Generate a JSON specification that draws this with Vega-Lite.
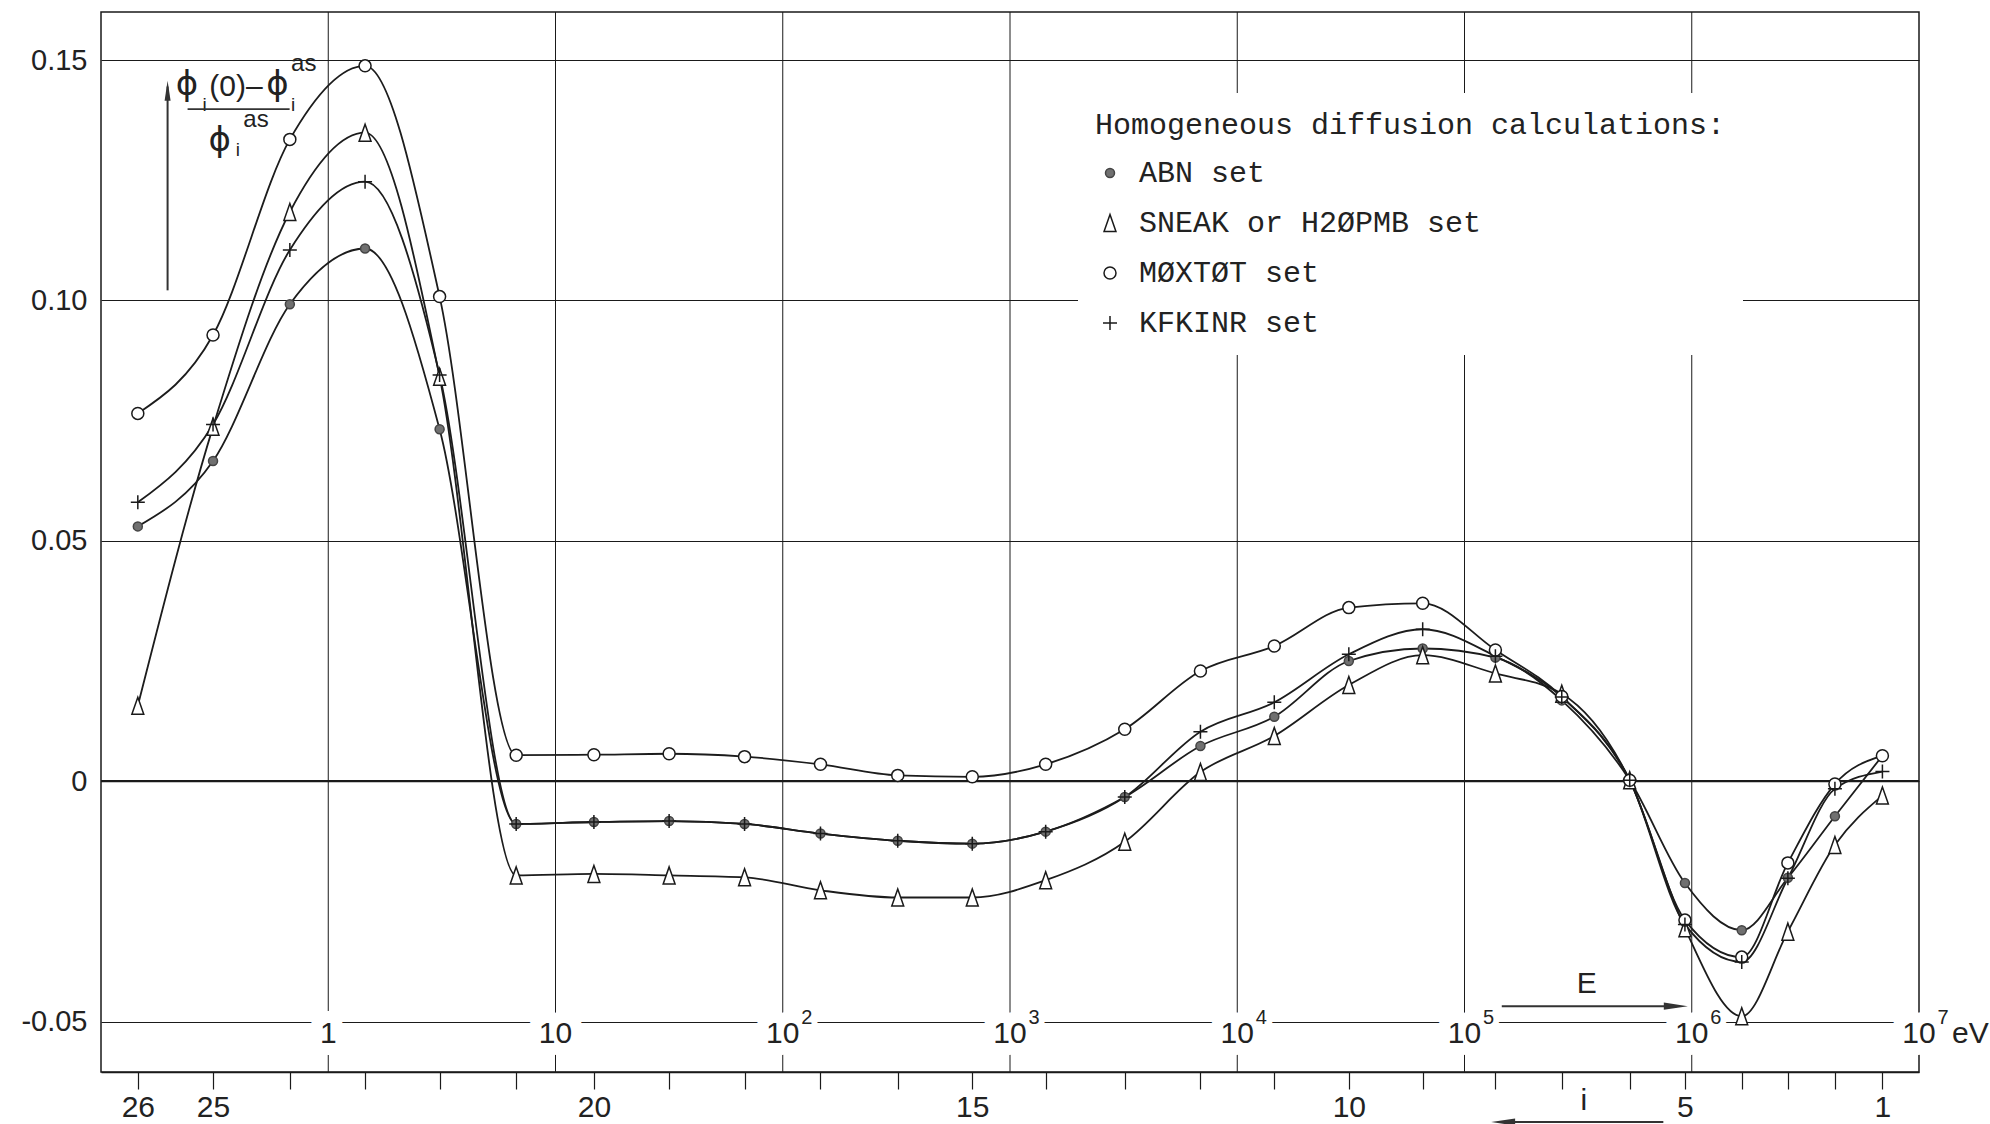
{
  "$schema": "https://vega.github.io/schema/vega-lite/v6.json",
  "width": 1818,
  "height": 1060,
  "autosize": {"type": "none"},
  "padding": {"left": 101, "top": 12, "right": 71, "bottom": 52},
  "background": "white",
  "config": {
    "view": {"stroke": "#1a1a1a", "strokeWidth": 1.5},
    "font": "Liberation Sans",
    "text": {"font": "Liberation Sans", "color": "#222"}
  },
  "datasets": {
    "one": [{}],
    "groups": [
      {"g": 26, "pos": -0.838, "ABN set": 0.0530, "SNEAK or H2ØPMB set": 0.0157, "MØXTØT set": 0.0765, "KFKINR set": 0.0580},
      {"g": 25, "pos": -0.507, "ABN set": 0.0666, "SNEAK or H2ØPMB set": 0.0737, "MØXTØT set": 0.0928, "KFKINR set": 0.0742},
      {"g": 24, "pos": -0.169, "ABN set": 0.0992, "SNEAK or H2ØPMB set": 0.1184, "MØXTØT set": 0.1335, "KFKINR set": 0.1105},
      {"g": 23, "pos": 0.162, "ABN set": 0.1108, "SNEAK or H2ØPMB set": 0.1349, "MØXTØT set": 0.1488, "KFKINR set": 0.1247},
      {"g": 22, "pos": 0.49, "ABN set": 0.0732, "SNEAK or H2ØPMB set": 0.0841, "MØXTØT set": 0.1008, "KFKINR set": 0.0845},
      {"g": 21, "pos": 0.827, "ABN set": -0.0089, "SNEAK or H2ØPMB set": -0.0196, "MØXTØT set": 0.0054, "KFKINR set": -0.0089},
      {"g": 20, "pos": 1.169, "ABN set": -0.0085, "SNEAK or H2ØPMB set": -0.0193, "MØXTØT set": 0.0055, "KFKINR set": -0.0085},
      {"g": 19, "pos": 1.5, "ABN set": -0.0083, "SNEAK or H2ØPMB set": -0.0196, "MØXTØT set": 0.0057, "KFKINR set": -0.0083},
      {"g": 18, "pos": 1.832, "ABN set": -0.0089, "SNEAK or H2ØPMB set": -0.0200, "MØXTØT set": 0.0051, "KFKINR set": -0.0089},
      {"g": 17, "pos": 2.166, "ABN set": -0.0109, "SNEAK or H2ØPMB set": -0.0227, "MØXTØT set": 0.0035, "KFKINR set": -0.0109},
      {"g": 16, "pos": 2.506, "ABN set": -0.0124, "SNEAK or H2ØPMB set": -0.0242, "MØXTØT set": 0.0012, "KFKINR set": -0.0124},
      {"g": 15, "pos": 2.834, "ABN set": -0.0130, "SNEAK or H2ØPMB set": -0.0242, "MØXTØT set": 0.0009, "KFKINR set": -0.0130},
      {"g": 14, "pos": 3.157, "ABN set": -0.0105, "SNEAK or H2ØPMB set": -0.0206, "MØXTØT set": 0.0035, "KFKINR set": -0.0105},
      {"g": 13, "pos": 3.505, "ABN set": -0.0033, "SNEAK or H2ØPMB set": -0.0126, "MØXTØT set": 0.0108, "KFKINR set": -0.0033},
      {"g": 12, "pos": 3.838, "ABN set": 0.0073, "SNEAK or H2ØPMB set": 0.0019, "MØXTØT set": 0.0229, "KFKINR set": 0.0103},
      {"g": 11, "pos": 4.163, "ABN set": 0.0134, "SNEAK or H2ØPMB set": 0.0094, "MØXTØT set": 0.0281, "KFKINR set": 0.0164},
      {"g": 10, "pos": 4.491, "ABN set": 0.0250, "SNEAK or H2ØPMB set": 0.0200, "MØXTØT set": 0.0361, "KFKINR set": 0.0264},
      {"g": 9, "pos": 4.816, "ABN set": 0.0276, "SNEAK or H2ØPMB set": 0.0262, "MØXTØT set": 0.0370, "KFKINR set": 0.0316},
      {"g": 8, "pos": 5.136, "ABN set": 0.0257, "SNEAK or H2ØPMB set": 0.0224, "MØXTØT set": 0.0273, "KFKINR set": 0.0260},
      {"g": 7, "pos": 5.428, "ABN set": 0.0168, "SNEAK or H2ØPMB set": 0.0182, "MØXTØT set": 0.0176, "KFKINR set": 0.0175},
      {"g": 6, "pos": 5.727, "ABN set": 0.0002, "SNEAK or H2ØPMB set": 0.0002, "MØXTØT set": 0.0002, "KFKINR set": 0.0002},
      {"g": 5, "pos": 5.97, "ABN set": -0.0212, "SNEAK or H2ØPMB set": -0.0306, "MØXTØT set": -0.0289, "KFKINR set": -0.0298},
      {"g": 4, "pos": 6.22, "ABN set": -0.0310, "SNEAK or H2ØPMB set": -0.0489, "MØXTØT set": -0.0366, "KFKINR set": -0.0376},
      {"g": 3, "pos": 6.423, "ABN set": -0.0201, "SNEAK or H2ØPMB set": -0.0313, "MØXTØT set": -0.0170, "KFKINR set": -0.0202},
      {"g": 2, "pos": 6.63, "ABN set": -0.0073, "SNEAK or H2ØPMB set": -0.0133, "MØXTØT set": -0.0006, "KFKINR set": -0.0016},
      {"g": 1, "pos": 6.839, "ABN set": 0.0053, "SNEAK or H2ØPMB set": -0.0030, "MØXTØT set": 0.0053, "KFKINR set": 0.0020}
    ],
    "dec": [
      {"E": 0, "base": "1", "exp": ""},
      {"E": 1, "base": "10", "exp": ""},
      {"E": 2, "base": "10", "exp": "2"},
      {"E": 3, "base": "10", "exp": "3"},
      {"E": 4, "base": "10", "exp": "4"},
      {"E": 5, "base": "10", "exp": "5"},
      {"E": 6, "base": "10", "exp": "6"},
      {"E": 7, "base": "10", "exp": "7"}
    ]
  },
  "layer": [
    {
      "data": {"name": "dec"},
      "transform": [{"filter": "datum.E < 7"}],
      "mark": {"type": "rule", "stroke": "#1a1a1a", "strokeWidth": 1},
      "encoding": {"x": {"field": "E", "type": "quantitative"}}
    },
    {
      "data": {"name": "one"},
      "mark": {"type": "rule", "stroke": "#1a1a1a", "strokeWidth": 2.4},
      "encoding": {"y": {"datum": 0}}
    },
    {
      "data": {"name": "dec"},
      "mark": {"type": "text", "fontSize": 30, "fill": "white", "stroke": "white", "strokeWidth": 24, "strokeJoin": "round", "baseline": "middle", "align": "center"},
      "encoding": {"x": {"field": "E", "type": "quantitative"}, "y": {"datum": -0.0526}, "text": {"field": "base"}}
    },
    {
      "data": {"name": "dec"},
      "transform": [{"filter": "datum.exp != ''"}],
      "mark": {"type": "text", "fontSize": 20, "fill": "white", "stroke": "white", "strokeWidth": 12, "strokeJoin": "round", "baseline": "middle", "align": "center", "dx": 24, "dy": -16},
      "encoding": {"x": {"field": "E", "type": "quantitative"}, "y": {"datum": -0.0526}, "text": {"field": "exp"}}
    },
    {
      "data": {"name": "groups"},
      "transform": [{"fold": ["ABN set", "SNEAK or H2ØPMB set", "MØXTØT set", "KFKINR set"], "as": ["series", "v"]}],
      "mark": {"type": "line", "interpolate": "monotone", "stroke": "#1c1c1c", "strokeWidth": 1.8},
      "encoding": {
        "x": {
          "field": "pos", "type": "quantitative",
          "scale": {"domain": [-1, 7], "nice": false, "zero": false},
          "axis": {
            "title": null, "grid": false, "domain": true, "domainColor": "#1a1a1a", "domainWidth": 1.5,
            "ticks": true, "tickSize": 17, "tickColor": "#1a1a1a", "tickWidth": 1.2,
            "values": [-0.838, -0.507, -0.169, 0.162, 0.49, 0.827, 1.169, 1.5, 1.832, 2.166, 2.506, 2.834, 3.157, 3.505, 3.838, 4.163, 4.491, 4.816, 5.136, 5.428, 5.727, 5.97, 6.22, 6.423, 6.63, 6.839],
            "labelExpr": "['26','25','','','','','20','','','','','15','','','','','10','','','','','5','','','','1'][indexof([-0.838,-0.507,-0.169,0.162,0.49,0.827,1.169,1.5,1.832,2.166,2.506,2.834,3.157,3.505,3.838,4.163,4.491,4.816,5.136,5.428,5.727,5.97,6.22,6.423,6.63,6.839], datum.value)]",
            "labelFont": "Liberation Sans", "labelFontSize": 30, "labelColor": "#222", "labelPadding": 3,
            "labelOverlap": false, "labelFlush": false, "labelBound": false
          }
        },
        "y": {
          "field": "v", "type": "quantitative",
          "scale": {"domain": [-0.0605, 0.16], "nice": false, "zero": false},
          "axis": {
            "title": null, "grid": true, "gridColor": "#1a1a1a", "gridWidth": 1, "gridOpacity": 1,
            "domain": false, "ticks": false,
            "values": [-0.05, 0, 0.05, 0.1, 0.15],
            "labelExpr": "datum.value == 0 ? '0' : (datum.value < 0 ? '-0.05' : format(datum.value, '.2f'))",
            "labelFont": "Liberation Sans", "labelFontSize": 29, "labelColor": "#222", "labelPadding": 14
          }
        },
        "detail": {"field": "series"}
      }
    },
    {
      "data": {"name": "groups"},
      "transform": [{"fold": ["ABN set", "SNEAK or H2ØPMB set", "MØXTØT set", "KFKINR set"], "as": ["series", "v"]}],
      "mark": {"type": "point", "strokeWidth": 1.5, "opacity": 1},
      "encoding": {
        "x": {"field": "pos", "type": "quantitative"},
        "y": {"field": "v", "type": "quantitative"},
        "shape": {
          "field": "series", "type": "nominal",
          "scale": {"domain": ["ABN set", "SNEAK or H2ØPMB set", "MØXTØT set", "KFKINR set"], "range": ["circle", "M0,-1L0.7,1L-0.7,1Z", "circle", "M-1,0L1,0M0,-1L0,1"]},
          "legend": {
            "orient": "none", "legendX": 977, "legendY": 81,
            "title": "Homogeneous diffusion calculations:",
            "titleFont": "Liberation Mono", "titleFontSize": 30, "titleFontWeight": "normal", "titleColor": "#222", "titleLimit": 2000, "titlePadding": 18,
            "labelFont": "Liberation Mono", "labelFontSize": 30, "labelColor": "#222", "labelLimit": 2000, "labelOffset": 14,
            "rowPadding": 20, "fillColor": "white", "padding": 17, "symbolStrokeWidth": 1.5
          }
        },
        "fill": {
          "field": "series", "type": "nominal",
          "scale": {"domain": ["ABN set", "SNEAK or H2ØPMB set", "MØXTØT set", "KFKINR set"], "range": ["#707070", "white", "white", "transparent"]}
        },
        "stroke": {
          "field": "series", "type": "nominal",
          "scale": {"domain": ["ABN set", "SNEAK or H2ØPMB set", "MØXTØT set", "KFKINR set"], "range": ["#444444", "#1a1a1a", "#1a1a1a", "#1a1a1a"]}
        },
        "size": {
          "field": "series", "type": "nominal",
          "scale": {"type": "ordinal", "domain": ["ABN set", "SNEAK or H2ØPMB set", "MØXTØT set", "KFKINR set"], "range": [81, 289, 144, 196]}
        }
      }
    },
    {
      "data": {"name": "dec"},
      "mark": {"type": "text", "fontSize": 30, "baseline": "middle", "align": "center", "color": "#222"},
      "encoding": {"x": {"field": "E", "type": "quantitative"}, "y": {"datum": -0.0526}, "text": {"field": "base"}}
    },
    {
      "data": {"name": "dec"},
      "transform": [{"filter": "datum.exp != ''"}],
      "mark": {"type": "text", "fontSize": 20, "baseline": "middle", "align": "center", "dx": 24, "dy": -16, "color": "#222"},
      "encoding": {"x": {"field": "E", "type": "quantitative"}, "y": {"datum": -0.0526}, "text": {"field": "exp"}}
    },
    {
      "data": {"name": "one"},
      "mark": {"type": "text", "text": "eV", "fontSize": 30, "baseline": "middle", "align": "left", "dx": 33, "color": "#222"},
      "encoding": {"x": {"datum": 7}, "y": {"datum": -0.0526}}
    },
    {
      "data": {"name": "one"},
      "mark": {"type": "text", "text": "E", "fontSize": 30, "baseline": "middle", "align": "center", "color": "#222"},
      "encoding": {"x": {"datum": 5.538}, "y": {"datum": -0.0421}}
    },
    {
      "data": {"name": "one"},
      "mark": {"type": "rule", "stroke": "#333", "strokeWidth": 2},
      "encoding": {"x": {"datum": 5.164}, "x2": {"datum": 5.935}, "y": {"datum": -0.0468}}
    },
    {
      "data": {"name": "one"},
      "mark": {"type": "point", "shape": "M1,0L-1,-0.3L-1,0.3Z", "filled": true, "color": "#333", "size": 576, "opacity": 1},
      "encoding": {"x": {"datum": 5.93}, "y": {"datum": -0.0468}}
    },
    {
      "data": {"name": "one"},
      "mark": {"type": "text", "text": "i", "fontSize": 30, "baseline": "middle", "align": "center", "color": "#222"},
      "encoding": {"x": {"datum": 5.525}, "y": {"datum": -0.0666}}
    },
    {
      "data": {"name": "one"},
      "mark": {"type": "rule", "stroke": "#333", "strokeWidth": 2},
      "encoding": {"x": {"datum": 5.16}, "x2": {"datum": 5.875}, "y": {"datum": -0.0709}}
    },
    {
      "data": {"name": "one"},
      "mark": {"type": "point", "shape": "M-1,0L1,-0.3L1,0.3Z", "filled": true, "color": "#333", "size": 576, "opacity": 1},
      "encoding": {"x": {"datum": 5.17}, "y": {"datum": -0.0709}}
    },
    {
      "data": {"name": "one"},
      "mark": {"type": "rule", "stroke": "#333", "strokeWidth": 2},
      "encoding": {"x": {"datum": -0.707}, "y": {"datum": 0.1021}, "y2": {"datum": 0.1445}}
    },
    {
      "data": {"name": "one"},
      "mark": {"type": "point", "shape": "M0,-1L0.3,1L-0.3,1Z", "filled": true, "color": "#333", "size": 400, "opacity": 1},
      "encoding": {"x": {"datum": -0.707}, "y": {"datum": 0.1436}}
    },
    {
      "data": {"name": "one"},
      "mark": {"type": "text", "text": "ϕ", "font": "DejaVu Sans", "fontSize": 34, "baseline": "middle", "align": "center", "color": "#222"},
      "encoding": {"x": {"datum": -0.622}, "y": {"datum": 0.1448}}
    },
    {
      "data": {"name": "one"},
      "mark": {"type": "text", "text": "i", "fontSize": 19, "baseline": "middle", "align": "center", "color": "#222"},
      "encoding": {"x": {"datum": -0.544}, "y": {"datum": 0.1406}}
    },
    {
      "data": {"name": "one"},
      "mark": {"type": "text", "text": "(0)–", "fontSize": 30, "baseline": "middle", "align": "center", "color": "#222"},
      "encoding": {"x": {"datum": -0.406}, "y": {"datum": 0.1444}}
    },
    {
      "data": {"name": "one"},
      "mark": {"type": "text", "text": "ϕ", "font": "DejaVu Sans", "fontSize": 34, "baseline": "middle", "align": "center", "color": "#222"},
      "encoding": {"x": {"datum": -0.223}, "y": {"datum": 0.1448}}
    },
    {
      "data": {"name": "one"},
      "mark": {"type": "text", "text": "i", "fontSize": 19, "baseline": "middle", "align": "center", "color": "#222"},
      "encoding": {"x": {"datum": -0.155}, "y": {"datum": 0.1406}}
    },
    {
      "data": {"name": "one"},
      "mark": {"type": "text", "text": "as", "fontSize": 24, "baseline": "middle", "align": "center", "color": "#222"},
      "encoding": {"x": {"datum": -0.108}, "y": {"datum": 0.1492}}
    },
    {
      "data": {"name": "one"},
      "mark": {"type": "rule", "stroke": "#333", "strokeWidth": 1.8},
      "encoding": {"x": {"datum": -0.619}, "x2": {"datum": -0.17}, "y": {"datum": 0.1398}}
    },
    {
      "data": {"name": "one"},
      "mark": {"type": "text", "text": "ϕ", "font": "DejaVu Sans", "fontSize": 34, "baseline": "middle", "align": "center", "color": "#222"},
      "encoding": {"x": {"datum": -0.478}, "y": {"datum": 0.1331}}
    },
    {
      "data": {"name": "one"},
      "mark": {"type": "text", "text": "i", "fontSize": 19, "baseline": "middle", "align": "center", "color": "#222"},
      "encoding": {"x": {"datum": -0.398}, "y": {"datum": 0.1312}}
    },
    {
      "data": {"name": "one"},
      "mark": {"type": "text", "text": "as", "fontSize": 24, "baseline": "middle", "align": "center", "color": "#222"},
      "encoding": {"x": {"datum": -0.318}, "y": {"datum": 0.1375}}
    }
  ]
}
